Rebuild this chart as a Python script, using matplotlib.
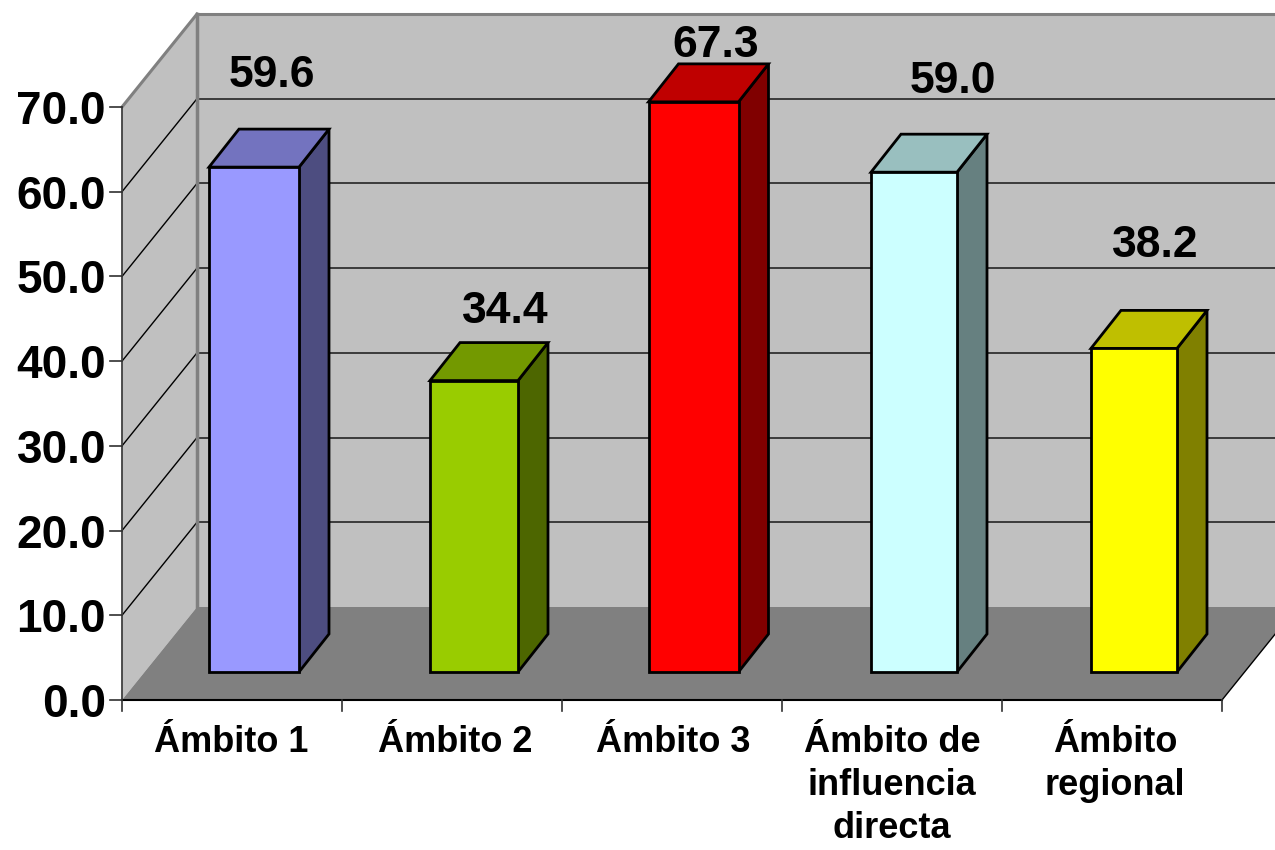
import matplotlib
matplotlib.use("Agg")
import matplotlib.pyplot as plt
from matplotlib.patches import Polygon

categories = ["Ámbito 1", "Ámbito 2", "Ámbito 3", "Ámbito de\ninfluencia\ndirecta", "Ámbito\nregional"]
values = [59.6, 34.4, 67.3, 59.0, 38.2]
value_labels = ["59.6", "34.4", "67.3", "59.0", "38.2"]
y_ticks = [0, 10, 20, 30, 40, 50, 60, 70]

front_colors = ["#9999FF", "#99CC00", "#FF0000", "#CCFFFF", "#FFFF00"]
top_colors = ["#7373BF", "#739900", "#BF0000", "#99BFBF", "#BFBF00"]
side_colors = ["#4D4D80", "#4D6600", "#800000", "#668080", "#808000"]

# pixel sizes of the fake 3d box
PX_X = 220.0
PX_Y = 593.0 / 70.0
wall_dx = 75 / PX_X
wall_dy = 93 / PX_Y
bar_dx = 30 / PX_X
bar_dy = 38 / PX_Y
base_dy = 28 / PX_Y
bar_shift = [22, 22, 21.5, 22, 22]
bar_w = [90, 88, 90, 86, 86]
label_dx = [18, 31, 22, 39, 21]
label_up = [92, 69, 56, 91, 103]
cat_dx = [-1, 3, 1, 0, 3]

fig = plt.figure(figsize=(12.75, 8.5), dpi=100)
ax = fig.add_axes([122 / 1275, 150 / 850, 1100 / 1275, 593 / 850])
ax.set_xlim(0, 5)
ax.set_ylim(0, 70)
ax.axis("off")

top = 70 + wall_dy
right = 5 + 1.0
FONT = "Liberation Sans"

# walls and floor
ax.add_patch(Polygon([(0, 0), (wall_dx, wall_dy), (wall_dx, top), (0, 70)], fc="#C0C0C0", ec="none", clip_on=False))
ax.add_patch(Polygon([(wall_dx, wall_dy), (right, wall_dy), (right, top), (wall_dx, top)], fc="#C0C0C0", ec="none", clip_on=False))

# gridlines
for t in y_ticks[1:-1]:
    ax.plot([0, wall_dx], [t, t + wall_dy], color="black", lw=1, clip_on=False)
    ax.plot([wall_dx, right], [t + wall_dy, t + wall_dy], color="#303030", lw=1.3, clip_on=False)
ax.plot([0, wall_dx], [70, top], color="#808080", lw=2.2, clip_on=False)
ax.plot([wall_dx, right], [top, top], color="#808080", lw=2.2, clip_on=False)
ax.plot([wall_dx, wall_dx], [wall_dy, top], color="#808080", lw=2.5, clip_on=False)
ax.add_patch(Polygon([(0, 0), (5, 0), (5 + wall_dx, wall_dy), (wall_dx, wall_dy)], fc="#808080", ec="none", clip_on=False))
ax.plot([5, 5 + wall_dx], [0, wall_dy], color="black", lw=1, clip_on=False)

# axis lines and ticks
ax.plot([0, 0], [0, 70], color="#404040", lw=1.3, clip_on=False)
ax.plot([0, 5], [0, 0], color="black", lw=1.5, clip_on=False)
for t in y_ticks:
    ax.plot([-12 / PX_X, 0], [t, t], color="#303030", lw=1.2, clip_on=False)
    ax.text(-16 / PX_X, t - 5 / PX_Y, "%.1f" % t, ha="right", va="center", fontsize=33, fontweight="bold", family=FONT, clip_on=False)
for i in range(6):
    ax.plot([i, i], [0, -11 / PX_Y], color="#303030", lw=1.2, clip_on=False)

# bars
for i, v in enumerate(values):
    w = bar_w[i] / PX_X
    x0 = i + 0.5 + bar_shift[i] / PX_X - w / 2
    x1 = x0 + w
    y0 = base_dy
    y1 = base_dy + v
    ax.add_patch(Polygon([(x1, y0), (x1 + bar_dx, y0 + bar_dy), (x1 + bar_dx, y1 + bar_dy), (x1, y1)], fc=side_colors[i], ec="black", lw=2, clip_on=False, zorder=3))
    ax.add_patch(Polygon([(x0, y1), (x1, y1), (x1 + bar_dx, y1 + bar_dy), (x0 + bar_dx, y1 + bar_dy)], fc=top_colors[i], ec="black", lw=2, clip_on=False, zorder=3))
    ax.add_patch(Polygon([(x0, y0), (x1, y0), (x1, y1), (x0, y1)], fc=front_colors[i], ec="black", lw=2, clip_on=False, zorder=4))
    ax.text(i + 0.5 + (22 + label_dx[i]) / PX_X, y1 + label_up[i] / PX_Y, value_labels[i], ha="center", va="center", fontsize=32, fontweight="bold", family=FONT, clip_on=False, zorder=5)

# category labels
for i, c in enumerate(categories):
    ax.text(i + 0.5 + cat_dx[i] / PX_X, -25 / PX_Y, c, ha="center", va="top", fontsize=26, fontweight="bold", family=FONT, linespacing=1.3, clip_on=False)

fig.savefig("out.png", dpi=100)
